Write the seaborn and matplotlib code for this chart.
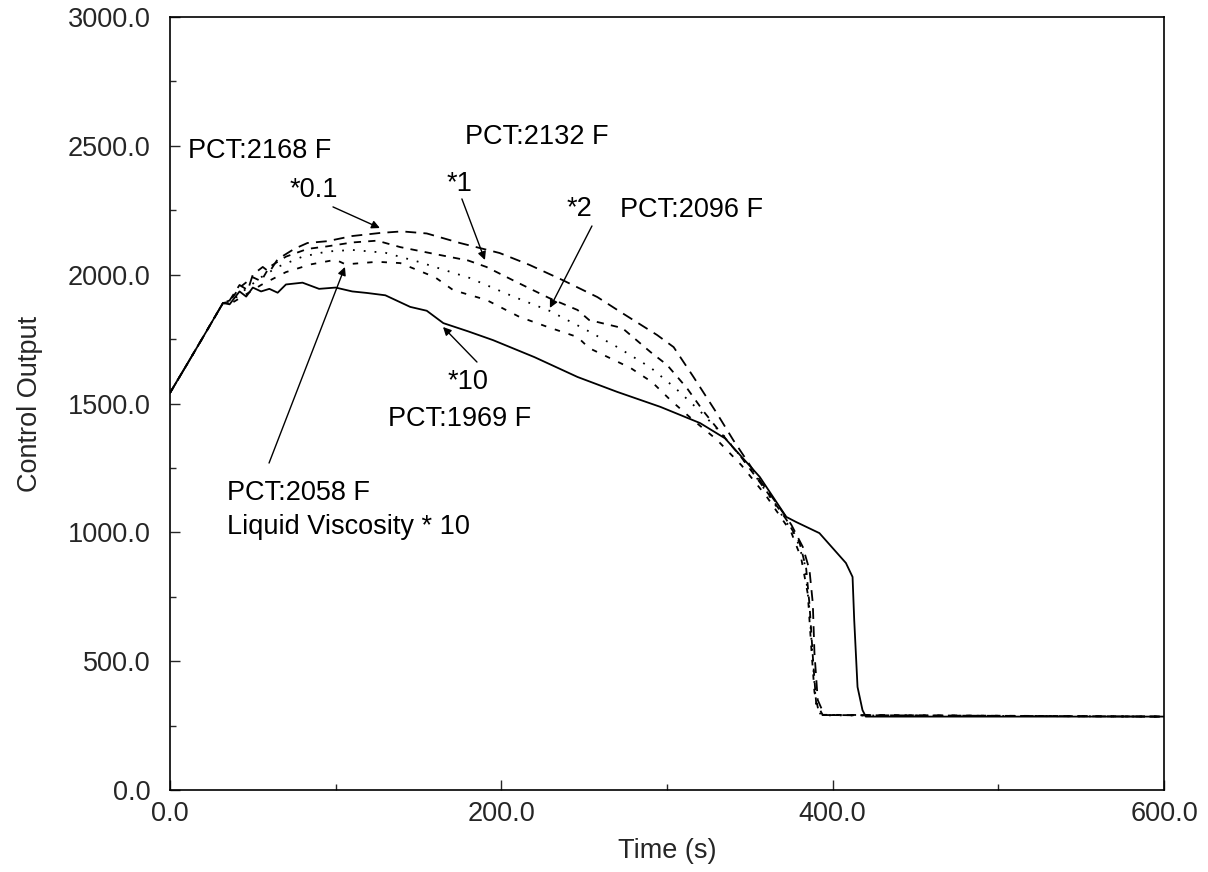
import matplotlib
matplotlib.use("Agg")
import matplotlib.pyplot as plt
import pandas as pd
import seaborn as sns

# values
t_base = [0, 10, 20, 32]
y_base = [1541, 1649, 1758, 1890]

t_x10 = [36, 42, 46, 50, 55, 60, 65, 70, 80, 90, 100, 110, 119, 130, 145, 155, 165, 180, 195,
         220, 246, 270, 296, 320, 335, 356, 372, 378, 392, 408, 412, 413, 415, 418, 420, 600]
y_x10 = [1885, 1935, 1915, 1950, 1935, 1945, 1930, 1962, 1969, 1945, 1950, 1935, 1929, 1920, 1875,
         1860, 1812, 1780, 1746, 1680, 1603, 1545, 1487, 1424, 1365, 1215, 1060, 1040, 997, 881, 827,
         660, 400, 310, 285, 285]

t_x01 = [36, 42, 47, 50, 56, 60, 65, 75, 83, 95, 110, 127, 140, 155, 175, 199, 217, 237, 258,
         272, 294, 304, 316, 330, 340, 348, 356, 366, 375, 382, 386, 388, 389, 391, 395, 600]
y_x01 = [1900, 1960, 1940, 2000, 2030, 2010, 2060, 2100, 2123, 2130, 2150, 2162, 2168, 2160, 2123,
         2084, 2038, 1979, 1913, 1855, 1766, 1719, 1603, 1463, 1358, 1281, 1203, 1114, 1030, 943, 854,
         725, 532, 349, 291, 285]

t_x1 = [36, 42, 50, 55, 60, 70, 83, 95, 110, 125, 139, 160, 180, 191, 209, 229, 246, 253,
        273, 290, 300, 312, 322, 332, 345, 360, 372, 380, 384, 386, 388, 390, 394, 600]
y_x1 = [1895, 1950, 1990, 1975, 2030, 2070, 2100, 2110, 2125, 2132, 2107, 2080, 2055, 2030, 1972,
        1909, 1863, 1824, 1793, 1700, 1650, 1560, 1470, 1390, 1290, 1160, 1050, 960, 860, 720, 520,
        340, 291, 285]

t_x2 = [36, 45, 55, 65, 80, 95, 110, 130, 150, 181, 208, 229, 250, 270, 290, 305,
        320, 335, 350, 365, 378, 383, 386, 388, 390, 393, 600]
y_x2 = [1890, 1940, 1990, 2030, 2070, 2090, 2096, 2085, 2050, 1987, 1913, 1860, 1790, 1719, 1640, 1560,
        1470, 1370, 1250, 1110, 980, 880, 700, 500, 330, 290, 285]

t_lv = [36, 45, 55, 70, 85, 100, 106, 125, 139, 160, 171, 191, 211, 228, 246, 253,
        278, 291, 302, 315, 330, 345, 360, 375, 381, 385, 387, 389, 392, 600]
y_lv = [1885, 1920, 1960, 2010, 2040, 2058, 2040, 2050, 2045, 1990, 1940, 1902, 1836, 1797, 1758, 1715,
        1638, 1583, 1514, 1440, 1360, 1260, 1140, 1000, 900, 760, 560, 380, 292, 285]

series = [
    ("*0.1", t_x01, y_x01, (0, (6, 4))),
    ("*1", t_x1, y_x1, (0, (4, 4))),
    ("*2", t_x2, y_x2, (0, (1, 5))),
    ("LV*10", t_lv, y_lv, (0, (3, 5))),
    ("*10", t_x10, y_x10, "-"),
]

labels = [
    ("PCT:2168 F", 10.9, 2480),
    ("*0.1", 72.4, 2329),
    ("PCT:2132 F", 178, 2534),
    ("*1", 167, 2352),
    ("*2", 239.6, 2255),
    ("PCT:2096 F", 271.6, 2251),
    ("*10", 167.8, 1583),
    ("PCT:1969 F", 131.6, 1440),
    ("PCT:2058 F", 34.4, 1153),
    ("Liquid Viscosity * 10", 34.4, 1021),
]

arrows = [
    ((98.4, 2263), (126.7, 2181)),
    ((176.2, 2294), (190.1, 2057)),
    ((254.7, 2189), (229.3, 1871)),
    ((185.3, 1661), (164.8, 1797)),
    ((59.8, 1269), (105.6, 2030)),
]

sns.set_theme(style="ticks")
plt.rcParams['font.family'] = ['Liberation Sans', 'DejaVu Sans']
fs = 19.5

fig = plt.figure(figsize=(12.08, 8.72), dpi=100)
ax = fig.add_axes([0.1407, 0.094, 0.8229, 0.8865])

for name, t, y, ls in series:
    df = pd.DataFrame({"Time (s)": t_base + t, "Control Output": y_base + y})
    sns.lineplot(data=df, x="Time (s)", y="Control Output", ax=ax, color="black",
                 linewidth=1.3, linestyle=ls, errorbar=None)

for txt, x, y in labels:
    ax.text(x, y, txt, fontsize=fs, ha="left", va="center", color="black")

for start, tip in arrows:
    ax.annotate("", xy=tip, xytext=start,
                arrowprops=dict(arrowstyle="-|>", color="black", lw=1.0, mutation_scale=12,
                                shrinkA=0, shrinkB=0))

ax.set_xlim(0, 600)
ax.set_ylim(0, 3000)
ax.set_xticks([0, 200, 400, 600])
ax.set_xticks([100, 300, 500], minor=True)
ax.set_yticks(range(0, 3001, 500))
ax.set_yticks(range(250, 3000, 500), minor=True)
ax.set_xticklabels([f"{v:.1f}" for v in [0, 200, 400, 600]])
ax.set_yticklabels([f"{v:.1f}" for v in range(0, 3001, 500)])
ax.tick_params(axis="both", which="major", direction="in", length=7, width=1, labelsize=fs)
ax.tick_params(axis="both", which="minor", direction="in", length=4, width=1)
ax.tick_params(axis="x", which="major", pad=8)
ax.tick_params(axis="y", which="major", pad=14)
for sp in ax.spines.values():
    sp.set_visible(True)
    sp.set_linewidth(1.2)
    sp.set_color("black")
ax.set_xlabel("Time (s)", fontsize=fs, labelpad=8)
ax.set_ylabel("Control Output", fontsize=fs, labelpad=18)
ax.set_facecolor("white")

fig.savefig("out.png", dpi=100, facecolor="white")
